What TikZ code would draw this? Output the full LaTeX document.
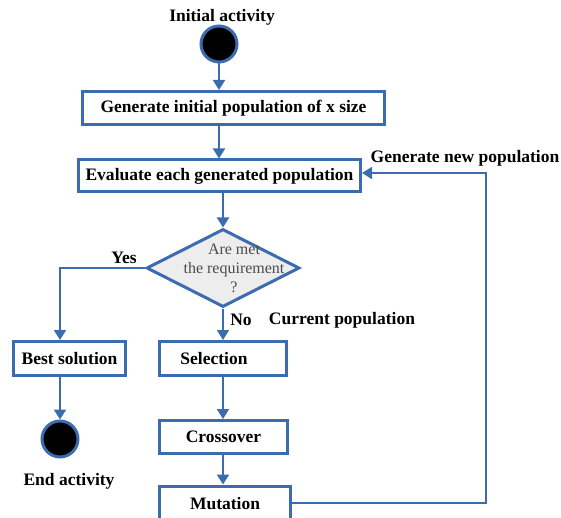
\documentclass[tikz,border=0pt]{standalone}
\usepackage{fontspec}
\setmainfont{Liberation Serif}
\usetikzlibrary{arrows.meta,shapes.geometric}
\definecolor{umlblue}{HTML}{3B6CAF}
\definecolor{decgray}{HTML}{EDEDED}
\tikzset{
  txt/.style={font=\fontsize{17.5}{19}\selectfont\bfseries,inner sep=0pt},
  actbox/.style={txt,draw=umlblue,line width=3pt,fill=white},
  dot/.style={circle,draw=umlblue,line width=3pt,fill=black,minimum size=36pt,inner sep=0pt},
  decision/.style={diamond,draw=umlblue,line width=3pt,fill=decgray,minimum width=153pt,minimum height=78pt,inner sep=0pt},
  flow/.style={draw=umlblue,line width=2pt,-{Triangle[width=12pt,length=10pt]}},
  loopflow/.style={draw=umlblue,line width=1.5pt,-{Triangle[width=12pt,length=10pt]}}
}
\begin{document}
\begin{tikzpicture}[x=1pt,y=-1pt]
  \useasboundingbox (0,0) rectangle (561,518);
  \node[txt] (start label) at (222,17) {Initial activity};
  \node[dot] (start) at (219,44) {};
  \node[actbox,minimum width=302pt,minimum height=33pt] (init) at (233.5,108) {Generate initial population of x size};
  \node[actbox,minimum width=282pt,minimum height=32pt] (eval) at (219.5,176) {Evaluate each generated population};
  \node[decision] (q) at (223,268) {};
  \node[font=\fontsize{16}{19}\selectfont,text=black!70,align=center,inner sep=0pt] (q text) at (234,268) {Are met\\the requirement\\?};
  \node[actbox,minimum width=112pt,minimum height=34pt] (best) at (69.5,358.5) {Best solution};
  \node[dot] (finish) at (60,439) {};
  \node[txt] (finish label) at (69,481) {End activity};
  \node[actbox,minimum width=127pt,minimum height=34pt] (sel) at (223,358.5) {\hspace{-18pt}Selection};
  \node[actbox,minimum width=128pt,minimum height=33pt] (cross) at (223.5,437) {Crossover};
  \node[actbox,minimum width=131pt,minimum height=36pt] (mut) at (225,504) {\raisebox{2pt}{Mutation}};
  \node[txt] (yes) at (124,258) {Yes};
  \node[txt] (no) at (241,320) {No};
  \node[txt] (current) at (342,320) {Current population};
  \node[txt] (newpop) at (465,158) {Generate new population};
  \coordinate (loop) at (486,173);
  \begin{scope}
    \draw[flow] (start) -- (init.north -| start);
    \draw[flow] (init.south -| start) -- (eval.north -| start);
    \draw[flow] (eval.south -| q) -- (q.north);
    \draw[flow] (q.west) -| (best.north -| finish);
    \draw[flow] (best.south -| finish) -- (finish);
    \draw[flow] (q.south) -- (sel.north -| q);
    \draw[flow] (sel.south -| q) -- (cross.north -| q);
    \draw[flow] (cross.south -| q) -- (mut.north -| q);
    \draw[loopflow] (mut.east |- 0,503) -| (loop) -- (loop -| eval.east);
  \end{scope}
\end{tikzpicture}
\end{document}
